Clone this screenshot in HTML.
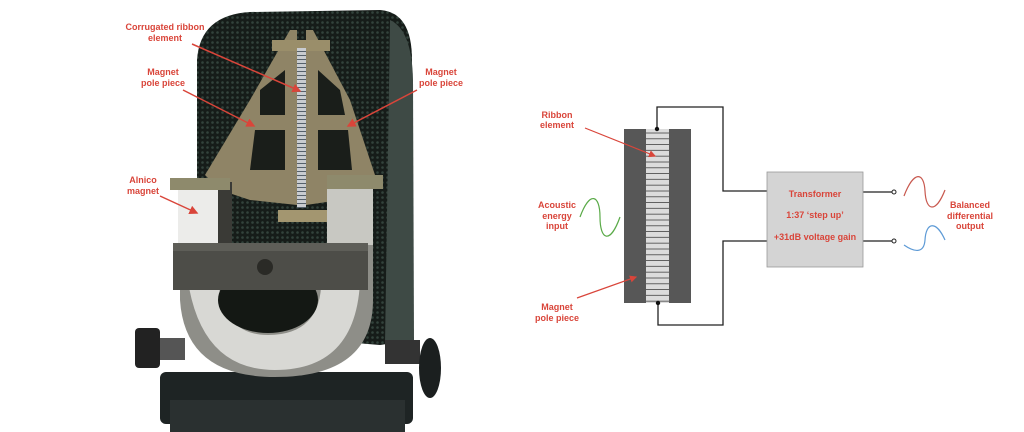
<!DOCTYPE html>
<html><head><meta charset="utf-8"><style>
html,body{margin:0;padding:0;background:#fff;}
svg{display:block;}
text{font-family:"Liberation Sans",Arial,sans-serif;font-weight:bold;font-size:9px;fill:#d9453a;text-anchor:middle;}
</style></head><body>
<svg width="1024" height="432" viewBox="0 0 1024 432" xmlns="http://www.w3.org/2000/svg">
<defs>
<pattern id="mesh" width="5" height="5" patternUnits="userSpaceOnUse">
<rect width="5" height="5" fill="#161c19"/><circle cx="2.5" cy="2.5" r="1.3" fill="#33433c"/>
</pattern>
<pattern id="rib" width="6" height="4" patternUnits="userSpaceOnUse">
<rect width="6" height="4" fill="#c9ccd0"/><rect y="3" width="6" height="1" fill="#55606a"/>
</pattern>
<pattern id="rib2" width="23" height="5.8" patternUnits="userSpaceOnUse">
<rect width="23" height="5.8" fill="#dcdcdc"/><rect y="5" width="23" height="0.8" fill="#444"/>
</pattern>
<marker id="ar" markerWidth="6" markerHeight="6" refX="5" refY="3" orient="auto"><path d="M0,0L6,3L0,6z" fill="#d9453a"/></marker>
</defs>
<!-- photo -->
<path d="M197,60 Q200,15 250,12 L380,10 Q412,12 412,60 L413,340 L380,345 L197,330 Z" fill="url(#mesh)"/>
<path d="M390,20 Q412,30 413,80 L414,340 L385,345 Z" fill="#3e4a45"/>
<!-- base -->
<rect x="160" y="372" width="253" height="52" rx="6" fill="#1e2424"/>
<rect x="170" y="400" width="235" height="32" fill="#2a3030"/>
<!-- knobs -->
<rect x="135" y="328" width="25" height="40" rx="4" fill="#222"/>
<rect x="160" y="338" width="25" height="22" fill="#555"/>
<rect x="385" y="340" width="35" height="24" fill="#333"/>
<ellipse cx="430" cy="368" rx="11" ry="30" fill="#1b1f1f"/>
<!-- pole pieces -->
<path d="M290,30 L297,30 L297,205 L250,200 L220,190 L205,175 L250,100 Z" fill="#8f8466"/>
<path d="M306,30 L313,30 L350,100 L375,175 L365,190 L340,200 L306,205 Z" fill="#8f8466"/>
<path d="M260,90 L285,70 L285,115 L260,115Z M255,130 L285,130 L285,170 L250,170Z" fill="#1a1e1a"/>
<path d="M318,70 L340,90 L345,115 L318,115Z M318,130 L348,130 L352,170 L318,170Z" fill="#1a1e1a"/>
<rect x="272" y="40" width="58" height="11" fill="#9a8e6a"/>
<rect x="297" y="48" width="9" height="160" fill="url(#rib)"/>
<rect x="278" y="210" width="50" height="12" fill="#a39670"/>
<!-- magnet -->
<path d="M180,243 L180,300 Q185,377 275,377 Q373,377 373,300 L373,243 Z" fill="#8e8e88"/>
<path d="M185,250 Q190,370 275,370 Q365,370 360,260 L320,260 Q330,335 268,335 Q215,335 218,260Z" fill="#d8d8d4"/>
<ellipse cx="268" cy="300" rx="50" ry="33" fill="#141814"/>
<rect x="178" y="180" width="42" height="65" fill="#ececea"/>
<rect x="218" y="182" width="14" height="62" fill="#3a3a36"/>
<rect x="327" y="180" width="46" height="65" fill="#c8c8c2"/>
<rect x="170" y="178" width="60" height="12" fill="#8e8a6c"/>
<rect x="327" y="175" width="56" height="14" fill="#8e8a6c"/>
<rect x="173" y="243" width="195" height="47" fill="#4d4d48"/>
<rect x="173" y="243" width="195" height="8" fill="#5e5e58"/>
<circle cx="265" cy="267" r="8" fill="#2a2a26"/>
<!-- photo labels -->
<text x="165" y="30">Corrugated ribbon</text><text x="165" y="41">element</text>
<line x1="192" y1="44" x2="300" y2="91" stroke="#d9453a" stroke-width="1.5" marker-end="url(#ar)"/>
<text x="163" y="75">Magnet</text><text x="163" y="86">pole piece</text>
<line x1="183" y1="90" x2="254" y2="126" stroke="#d9453a" stroke-width="1.5" marker-end="url(#ar)"/>
<text x="441" y="75">Magnet</text><text x="441" y="86">pole piece</text>
<line x1="417" y1="90" x2="348" y2="126" stroke="#d9453a" stroke-width="1.5" marker-end="url(#ar)"/>
<text x="143" y="183">Alnico</text><text x="143" y="194">magnet</text>
<line x1="160" y1="196" x2="197" y2="213" stroke="#d9453a" stroke-width="1.5" marker-end="url(#ar)"/>
<!-- diagram -->
<rect x="624" y="129" width="67" height="174" fill="#575757"/>
<rect x="646" y="129" width="23" height="174" fill="url(#rib2)"/>
<g fill="none" stroke="#222" stroke-width="1.3">
<polyline points="657,129 657,107 723,107 723,191 767,191"/>
<polyline points="658,303 658,325 723,325 723,241 767,241"/>
<line x1="863" y1="192" x2="892" y2="192"/>
<line x1="863" y1="241" x2="892" y2="241"/>
</g>
<circle cx="657" cy="129" r="2.2" fill="#111"/><circle cx="658" cy="303" r="2.2" fill="#111"/>
<circle cx="894" cy="192" r="2" fill="#fff" stroke="#222"/><circle cx="894" cy="241" r="2" fill="#fff" stroke="#222"/>
<rect x="767" y="172" width="96" height="95" fill="#d4d4d4" stroke="#999" stroke-width="0.8"/>
<text x="815" y="197">Transformer</text>
<text x="815" y="218">1:37 ‘step up’</text>
<text x="815" y="240">+31dB voltage gain</text>
<path d="M580,217 C590,190 600,195 600,217 C600,240 610,245 620,217" fill="none" stroke="#5aaa48" stroke-width="1.2"/>
<path d="M904,196 C914,170 924,172 925,191 C926,212 936,213 945,190" fill="none" stroke="#c8584e" stroke-width="1.2"/>
<path d="M904,245 C914,252 924,254 925,240 C926,222 936,220 945,240" fill="none" stroke="#5d9ad6" stroke-width="1.2"/>
<text x="557" y="118">Ribbon</text><text x="557" y="128">element</text>
<line x1="585" y1="128" x2="655" y2="156" stroke="#d9453a" stroke-width="1.2" marker-end="url(#ar)"/>
<text x="557" y="208">Acoustic</text><text x="557" y="219">energy</text><text x="557" y="229">input</text>
<text x="557" y="310">Magnet</text><text x="557" y="321">pole piece</text>
<line x1="577" y1="298" x2="636" y2="277" stroke="#d9453a" stroke-width="1.2" marker-end="url(#ar)"/>
<text x="970" y="208">Balanced</text><text x="970" y="219">differential</text><text x="970" y="229">output</text>
</svg>
</body></html>
